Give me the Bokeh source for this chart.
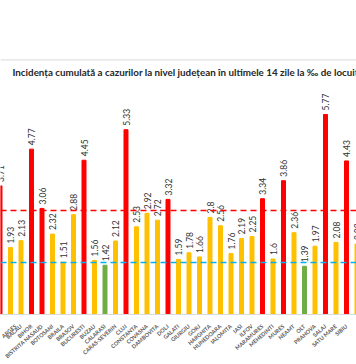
import math
from bokeh.plotting import figure
from bokeh.models import ColumnDataSource, Range1d, FixedTicker, Span, Label
from bokeh.core.properties import value
from bokeh.embed import file_html
from bokeh.resources import INLINE

# ---- data ----
counties = ["ARAD", "ARGES", "BACAU", "BIHOR", "BISTRITA NASAUD", "BOTOSANI", "BRAILA",
            "BRASOV", "BUCURESTI", "BUZAU", "CALARASI", "CARAS-SEVERIN", "CLUJ", "CONSTANTA",
            "COVASNA", "DAMBOVITA", "DOLJ", "GALATI", "GIURGIU", "GORJ", "HARGHITA",
            "HUNEDOARA", "IALOMITA", "IASI", "ILFOV", "MARAMURES", "MEHEDINTI", "MURES",
            "NEAMT", "OLT", "PRAHOVA", "SALAJ", "SATU MARE", "SIBIU", "SUCEAVA"]
incidence = [3.71, 1.93, 2.13, 4.77, 3.06, 2.32, 1.51, 2.88, 4.45, 1.56, 1.42, 2.12, 5.33, 2.53,
             2.92, 2.72, 3.32, 1.59, 1.78, 1.66, 2.8, 2.56, 1.76, 2.19, 2.25, 3.34, 1.6, 3.86,
             2.36, 1.39, 1.97, 5.77, 2.08, 4.43, 2.03]
upper_threshold = 3.0
lower_threshold = 1.5
title_text = "Incidența cumulată a cazurilor la nivel județean în ultimele 14 zile la ‰ de locuitori"

RED, YELLOW, GREEN = "#FF0000", "#FFC000", "#70AD47"

def pick(v):
    if v > upper_threshold:
        return RED
    if v < lower_threshold:
        return GREEN
    return YELLOW

xs = list(range(len(counties)))
src = ColumnDataSource(dict(x=xs, v=incidence, lbl=[str(v) for v in incidence],
                            color=[pick(v) for v in incidence]))

W, H = 356, 364
bottom = 47
frame_h = H - bottom
px_per_unit = 35.0
px_per_cat = 10.5
x0 = 0.5 / px_per_cat

p = figure(width=W, height=H, output_backend="svg", toolbar_location=None,
           x_range=Range1d(x0, x0 + W / px_per_cat),
           y_range=Range1d(0, frame_h / px_per_unit),
           min_border_left=0, min_border_right=0, min_border_top=0, min_border_bottom=bottom)
p.outline_line_color = None
p.background_fill_color = "white"
p.border_fill_color = "white"
p.xgrid.visible = False
p.ygrid.visible = False
p.yaxis.visible = False

ax = p.xaxis[0]
ax.ticker = FixedTicker(ticks=xs)
ax.major_label_overrides = {i: c for i, c in enumerate(counties)}
ax.major_label_orientation = 0.72
ax.major_label_text_font = "Lato"
ax.major_label_text_font_style = "bold"
ax.major_label_text_font_size = "5.5px"
ax.major_label_text_color = "#595959"
ax.major_label_standoff = 5
ax.major_tick_line_color = None
ax.minor_tick_line_color = None
ax.axis_line_color = "#d9d9d9"

p.vbar(x="x", top="v", width=0.38, color="color", source=src)

p.add_layout(Span(location=upper_threshold, dimension="width", line_color=RED,
                  line_dash="6 4", line_width=1.5))
p.add_layout(Span(location=lower_threshold, dimension="width", line_color="#00B0F0",
                  line_dash="6 4", line_width=1.5))

p.text(x="x", y="v", text="lbl", source=src, angle=math.pi / 2, y_offset=-4,
       text_align="left", text_baseline="middle", text_font=value("Lato"),
       text_font_size="8.5px", text_color="#333333")

# chart-area top border and title
p.add_layout(Span(location=(frame_h - 60) / px_per_unit, dimension="width",
                  line_color="#d9d9d9", line_width=1))
p.add_layout(Label(x=x0 + 12 / px_per_cat, y=(frame_h - 72) / px_per_unit, text=title_text,
                   text_font="Lato", text_font_style="bold", text_font_size="9.8px",
                   text_color="#262626", text_baseline="middle", text_align="left"))

open("out.html", "w").write(file_html(p, INLINE))
